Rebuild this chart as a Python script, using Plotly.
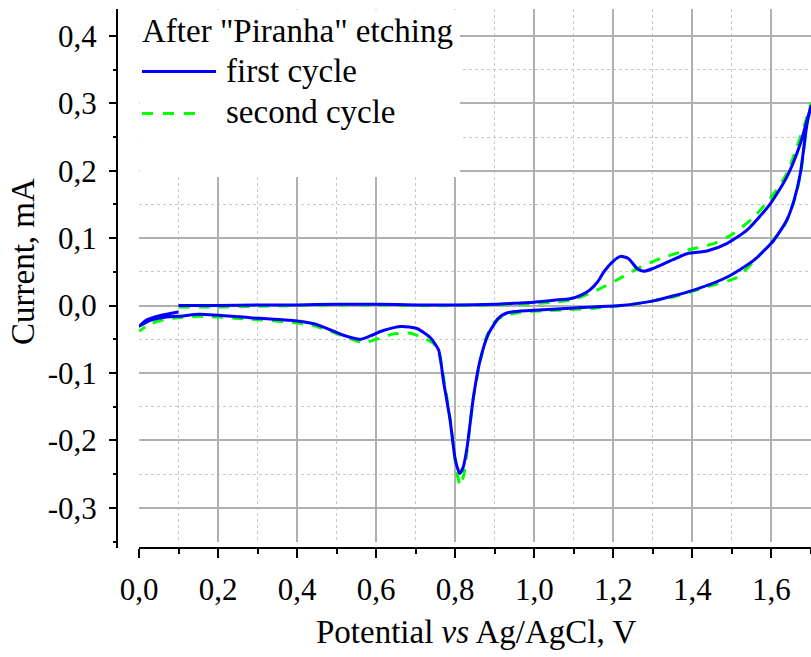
import plotly.graph_objects as go

# ---- data ----
first_x = [0.10, 0.20, 0.30, 0.40, 0.50, 0.55, 0.60, 0.70, 0.80, 0.90, 0.965, 1.00, 1.05, 1.09, 1.12,
           1.14, 1.16, 1.176, 1.20, 1.218, 1.238, 1.26, 1.277, 1.30, 1.32, 1.35, 1.386, 1.437, 1.487,
           1.538, 1.597, 1.639, 1.673, 1.70,
           1.69, 1.673, 1.657, 1.639, 1.606, 1.555, 1.487, 1.403, 1.302, 1.218, 1.15, 1.091, 1.00,
           0.965, 0.93, 0.909, 0.884, 0.863, 0.846, 0.830, 0.820, 0.811, 0.800, 0.787, 0.770, 0.758,
           0.736, 0.703, 0.664, 0.618, 0.585, 0.559, 0.517, 0.449, 0.399, 0.281, 0.154, 0.10, 0.070,
           0.028, 0.0,
           0.02, 0.045, 0.10]
first_y = [0.000, 0.000, 0.001, 0.001, 0.002, 0.002, 0.002, 0.001, 0.001, 0.002, 0.004, 0.005, 0.008,
           0.010, 0.016, 0.023, 0.035, 0.050, 0.066, 0.073, 0.070, 0.055, 0.051, 0.055, 0.060, 0.068,
           0.077, 0.081, 0.092, 0.112, 0.151, 0.191, 0.240, 0.296,
           0.270, 0.196, 0.156, 0.127, 0.097, 0.067, 0.042, 0.023, 0.007, 0.000, -0.002, -0.004, -0.007,
           -0.008, -0.011, -0.019, -0.042, -0.081, -0.136, -0.210, -0.240, -0.249, -0.228, -0.170,
           -0.111, -0.066, -0.047, -0.034, -0.031, -0.037, -0.045, -0.050, -0.044, -0.028, -0.023,
           -0.018, -0.013, -0.016, -0.017, -0.022, -0.031,
           -0.021, -0.016, -0.0095]

second_x = [0.10, 0.20, 0.30, 0.40, 0.50, 0.60, 0.70, 0.80, 0.90, 1.00, 1.05, 1.10, 1.159, 1.209, 1.268,
            1.319, 1.386, 1.454, 1.504, 1.555, 1.606, 1.639, 1.664, 1.690, 1.70,
            1.69, 1.675, 1.66, 1.631, 1.581, 1.513, 1.437, 1.353, 1.25, 1.15, 1.05, 0.965, 0.92, 0.90,
            0.88, 0.862, 0.845, 0.830, 0.822, 0.813, 0.803, 0.790, 0.773, 0.758, 0.745, 0.711, 0.686,
            0.644, 0.60, 0.568, 0.534, 0.45, 0.40, 0.28, 0.15, 0.07, 0.03, 0.0]
second_y = [-0.002, -0.002, -0.001, 0.000, 0.001, 0.001, 0.000, 0.000, 0.001, 0.003, 0.005, 0.009,
            0.023, 0.038, 0.057, 0.070, 0.082, 0.092, 0.107, 0.131, 0.166, 0.196, 0.235, 0.280, 0.300,
            0.270, 0.200, 0.160, 0.117, 0.082, 0.042, 0.028, 0.013, 0.002, -0.004, -0.007, -0.010,
            -0.016, -0.024, -0.045, -0.085, -0.140, -0.215, -0.250, -0.267, -0.245, -0.180, -0.115,
            -0.070, -0.056, -0.046, -0.041, -0.042, -0.050, -0.055, -0.049, -0.031, -0.026, -0.020,
            -0.016, -0.020, -0.027, -0.038]

x_ticks = [0.0, 0.2, 0.4, 0.6, 0.8, 1.0, 1.2, 1.4, 1.6]
x_ticktext = ["0,0", "0,2", "0,4", "0,6", "0,8", "1,0", "1,2", "1,4", "1,6"]
y_ticks = [-0.3, -0.2, -0.1, 0.0, 0.1, 0.2, 0.3, 0.4]
y_ticktext = ["-0,3", "-0,2", "-0,1", "0,0", "0,1", "0,2", "0,3", "0,4"]

legend_title = 'After "Piranha" etching'
name_first = "first cycle"
name_second = "second cycle"
x_title = "Potential <i>vs</i> Ag/AgCl, V"
y_title = "Current, mA"

FONT = "Liberation Serif, Times New Roman, serif"
FS_TICK = 31
FS_TEXT = 33
BLUE = "#0000FF"
GREEN = "#00FF00"

fig = go.Figure()
fig.add_trace(go.Scatter(x=second_x, y=second_y, mode="lines", name=name_second,
                         line=dict(color=GREEN, width=3, dash="11px,9px", shape="spline", smoothing=0.6),
                         showlegend=False))
fig.add_trace(go.Scatter(x=first_x, y=first_y, mode="lines", name=name_first,
                         line=dict(color=BLUE, width=3, shape="spline", smoothing=0.6),
                         showlegend=False))

W, H = 811, 657
ML, MR, MT, MB = 117, 0, 9, 109
PW = W - ML - MR
PH = H - MT - MB


def px(xp):
    return (xp - ML) / PW


def py(yp):
    return (H - MB - yp) / PH


axis_font = dict(family=FONT, size=FS_TICK, color="black")

fig.update_layout(
    width=W, height=H,
    margin=dict(l=ML, r=MR, t=MT, b=MB, pad=0),
    paper_bgcolor="white", plot_bgcolor="white",
    font=dict(family=FONT, size=FS_TICK, color="black"),
    showlegend=False,
    xaxis=dict(
        range=[0, 1.7], domain=[px(139), 1], anchor="free", position=0,
        tickmode="array", tickvals=x_ticks, ticktext=x_ticktext,
        ticks="outside", ticklen=9, tickwidth=2, tickcolor="black",
        tickfont=axis_font, ticklabelstandoff=5,
        showline=True, linecolor="black", linewidth=2,
        showgrid=True, gridcolor="#b0b0b0", gridwidth=1.5,
        zeroline=False,
        minor=dict(tickmode="linear", tick0=0, dtick=0.1, ticks="outside", ticklen=5,
                   tickwidth=2, tickcolor="black",
                   showgrid=True, gridcolor="#c8c8c8", gridwidth=1, griddash="dot"),
    ),
    yaxis=dict(
        range=[-0.35, 0.44], domain=[py(541.5), 1], anchor="free", position=0,
        tickmode="array", tickvals=y_ticks, ticktext=y_ticktext,
        ticks="outside", ticklen=8, tickwidth=2, tickcolor="black",
        tickfont=axis_font, ticklabelstandoff=6,
        showline=False,
        showgrid=True, gridcolor="#b0b0b0", gridwidth=1.5,
        zeroline=False,
        minor=dict(tickmode="linear", tick0=0, dtick=0.05, ticks="outside", ticklen=4,
                   tickwidth=2, tickcolor="black",
                   showgrid=True, gridcolor="#c8c8c8", gridwidth=1, griddash="dot"),
    ),
)

shapes = [
    # y axis line (extends down to the x axis line)
    dict(type="line", xref="paper", yref="paper", x0=0, x1=0, y0=0, y1=1,
         line=dict(color="black", width=2), layer="above"),
    # legend background
    dict(type="rect", xref="paper", yref="paper", x0=px(139.5), x1=px(460), y0=py(177), y1=py(9.5),
         fillcolor="white", line=dict(width=0), layer="above"),
    # legend line samples
    dict(type="line", xref="paper", yref="paper", x0=px(142), x1=px(216), y0=py(71.5), y1=py(71.5),
         line=dict(color=BLUE, width=3), layer="above"),
    dict(type="line", xref="paper", yref="paper", x0=px(142), x1=px(205), y0=py(113.5), y1=py(113.5),
         line=dict(color=GREEN, width=3, dash="11px,10px"), layer="above"),
]
fig.update_layout(shapes=shapes)

ann = [
    dict(text=legend_title, x=px(140), y=py(31), xanchor="left", yanchor="middle"),
    dict(text=name_first, x=px(224), y=py(71), xanchor="left", yanchor="middle"),
    dict(text=name_second, x=px(224), y=py(112), xanchor="left", yanchor="middle"),
    dict(text=x_title, x=px(476), y=py(632), xanchor="center", yanchor="middle"),
    dict(text=y_title, x=px(23), y=py(262), xanchor="center", yanchor="middle", textangle=-90),
]
for a in ann:
    fig.add_annotation(xref="paper", yref="paper", showarrow=False,
                       font=dict(family=FONT, size=FS_TEXT, color="black"), **a)

fig.write_html("out.html")
